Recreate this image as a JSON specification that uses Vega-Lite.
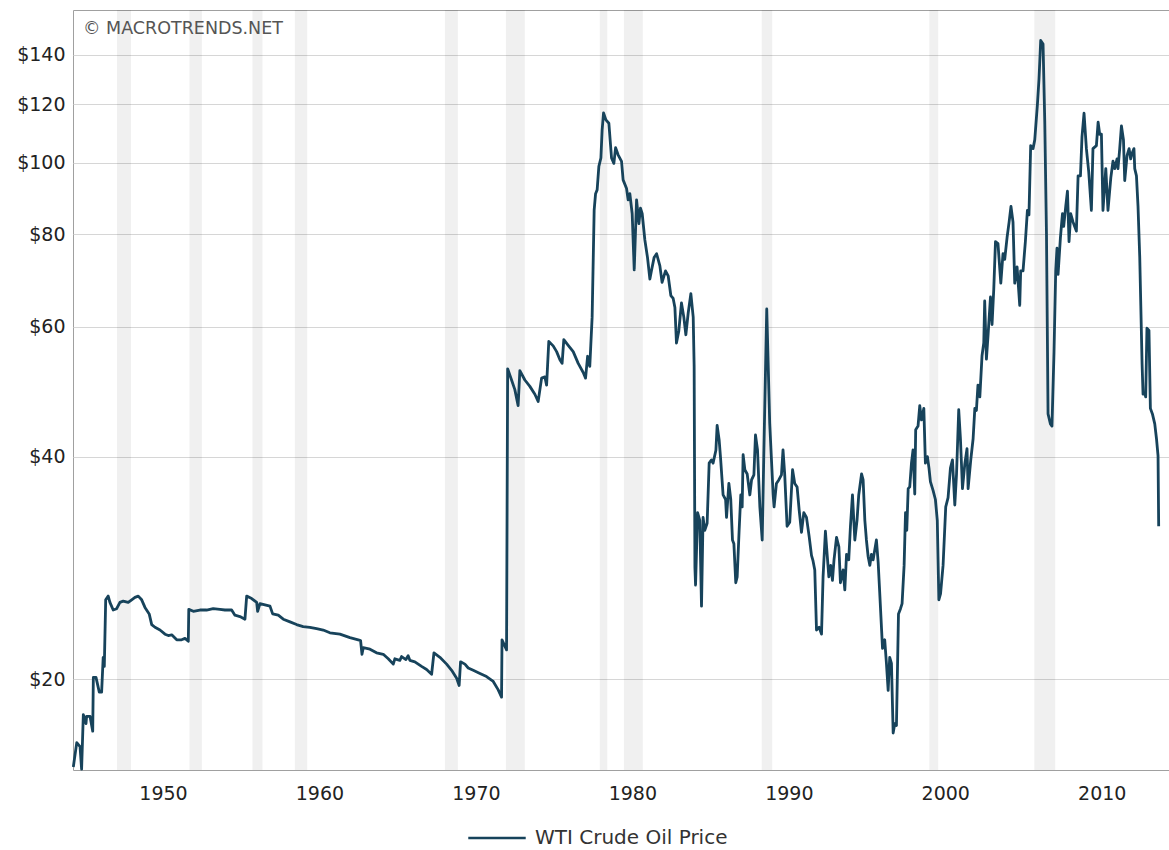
{
  "$schema": "https://vega.github.io/schema/vega-lite/v6.json",
  "width": 1096,
  "height": 760,
  "autosize": {"type": "none"},
  "padding": {"left": 73, "top": 10, "right": 0, "bottom": 80},
  "background": "white",
  "config": {
    "font": "DejaVu Sans",
    "view": {"stroke": "#a0a0a0", "strokeWidth": 1}
  },
  "title": {
    "text": "© MACROTRENDS.NET",
    "anchor": "start",
    "frame": "group",
    "orient": "top",
    "offset": -41,
    "dx": 10,
    "baseline": "alphabetic",
    "fontSize": 17.5,
    "fontWeight": "normal",
    "color": "#555555"
  },
  "datasets": {
    "rec": [
      {"year": 1947.06, "end": 1947.96},
      {"year": 1951.69, "end": 1952.49},
      {"year": 1955.72, "end": 1956.36},
      {"year": 1958.43, "end": 1959.22},
      {"year": 1968.02, "end": 1968.85},
      {"year": 1971.92, "end": 1973.13},
      {"year": 1977.92, "end": 1978.4},
      {"year": 1979.46, "end": 1980.67},
      {"year": 1988.27, "end": 1988.94},
      {"year": 1998.98, "end": 1999.55},
      {"year": 2005.69, "end": 2007.03}
    ],
    "oil": [
      {"year": 1944.27, "price": 15.2},
      {"year": 1944.49, "price": 16.4},
      {"year": 1944.7, "price": 16.2},
      {"year": 1944.8, "price": 15.1},
      {"year": 1944.91, "price": 17.9},
      {"year": 1945.08, "price": 17.4},
      {"year": 1945.12, "price": 17.8},
      {"year": 1945.34, "price": 17.8},
      {"year": 1945.51, "price": 17.0},
      {"year": 1945.55, "price": 20.1},
      {"year": 1945.72, "price": 20.1},
      {"year": 1945.93, "price": 19.2},
      {"year": 1946.08, "price": 19.2},
      {"year": 1946.18, "price": 21.4},
      {"year": 1946.25, "price": 20.8},
      {"year": 1946.34, "price": 25.6},
      {"year": 1946.5, "price": 25.9},
      {"year": 1946.61, "price": 25.4},
      {"year": 1946.82, "price": 24.8},
      {"year": 1947.04, "price": 24.9},
      {"year": 1947.25, "price": 25.4},
      {"year": 1947.46, "price": 25.5},
      {"year": 1947.78, "price": 25.4},
      {"year": 1948.0, "price": 25.6},
      {"year": 1948.21, "price": 25.8},
      {"year": 1948.42, "price": 25.9},
      {"year": 1948.64, "price": 25.6},
      {"year": 1948.85, "price": 25.0},
      {"year": 1949.12, "price": 24.5},
      {"year": 1949.28, "price": 23.7},
      {"year": 1949.49, "price": 23.5},
      {"year": 1949.81, "price": 23.3},
      {"year": 1950.13, "price": 23.0},
      {"year": 1950.34, "price": 22.9},
      {"year": 1950.56, "price": 22.95},
      {"year": 1950.88, "price": 22.6},
      {"year": 1951.19, "price": 22.6},
      {"year": 1951.41, "price": 22.7},
      {"year": 1951.62, "price": 22.5},
      {"year": 1951.65, "price": 24.85},
      {"year": 1951.94, "price": 24.7},
      {"year": 1952.36, "price": 24.8},
      {"year": 1952.79, "price": 24.8},
      {"year": 1953.21, "price": 24.9},
      {"year": 1953.64, "price": 24.85},
      {"year": 1953.96, "price": 24.8},
      {"year": 1954.39, "price": 24.8},
      {"year": 1954.6, "price": 24.4},
      {"year": 1954.92, "price": 24.3},
      {"year": 1955.24, "price": 24.1},
      {"year": 1955.35, "price": 25.9},
      {"year": 1955.67, "price": 25.7},
      {"year": 1955.99, "price": 25.4},
      {"year": 1956.05, "price": 24.7},
      {"year": 1956.2, "price": 25.3},
      {"year": 1956.52, "price": 25.2},
      {"year": 1956.84, "price": 25.1},
      {"year": 1957.01, "price": 24.5},
      {"year": 1957.37, "price": 24.4},
      {"year": 1957.69, "price": 24.1},
      {"year": 1958.12, "price": 23.9},
      {"year": 1958.54, "price": 23.7},
      {"year": 1958.96, "price": 23.55},
      {"year": 1959.39, "price": 23.5},
      {"year": 1959.82, "price": 23.4},
      {"year": 1960.24, "price": 23.3},
      {"year": 1960.67, "price": 23.1},
      {"year": 1961.31, "price": 23.0},
      {"year": 1961.95, "price": 22.75},
      {"year": 1962.48, "price": 22.6},
      {"year": 1962.63, "price": 22.55},
      {"year": 1962.72, "price": 21.6},
      {"year": 1962.8, "price": 22.05},
      {"year": 1963.23, "price": 21.95},
      {"year": 1963.65, "price": 21.7},
      {"year": 1964.08, "price": 21.6},
      {"year": 1964.4, "price": 21.3},
      {"year": 1964.72, "price": 20.95},
      {"year": 1964.82, "price": 21.3},
      {"year": 1965.14, "price": 21.2},
      {"year": 1965.25, "price": 21.45},
      {"year": 1965.53, "price": 21.25},
      {"year": 1965.67, "price": 21.5},
      {"year": 1965.78, "price": 21.2},
      {"year": 1966.1, "price": 21.1},
      {"year": 1966.53, "price": 20.8},
      {"year": 1966.85, "price": 20.6},
      {"year": 1967.17, "price": 20.3},
      {"year": 1967.32, "price": 21.7},
      {"year": 1967.7, "price": 21.4},
      {"year": 1968.13, "price": 20.95},
      {"year": 1968.45, "price": 20.55},
      {"year": 1968.77, "price": 20.05},
      {"year": 1968.93, "price": 19.6},
      {"year": 1969.02, "price": 21.1},
      {"year": 1969.3, "price": 20.95},
      {"year": 1969.51, "price": 20.7},
      {"year": 1969.83, "price": 20.55},
      {"year": 1970.26, "price": 20.35},
      {"year": 1970.68, "price": 20.15},
      {"year": 1971.11, "price": 19.85},
      {"year": 1971.42, "price": 19.35},
      {"year": 1971.64, "price": 18.9},
      {"year": 1971.67, "price": 22.6},
      {"year": 1971.96, "price": 21.9},
      {"year": 1972.03, "price": 52.6},
      {"year": 1972.28, "price": 50.8},
      {"year": 1972.49, "price": 49.3},
      {"year": 1972.7, "price": 46.9},
      {"year": 1972.81, "price": 52.3},
      {"year": 1973.13, "price": 50.8},
      {"year": 1973.45, "price": 49.8},
      {"year": 1973.77, "price": 48.6},
      {"year": 1973.98, "price": 47.5},
      {"year": 1974.2, "price": 51.1},
      {"year": 1974.41, "price": 51.3},
      {"year": 1974.52, "price": 50.0},
      {"year": 1974.66, "price": 57.3},
      {"year": 1974.94, "price": 56.5},
      {"year": 1975.16, "price": 55.5},
      {"year": 1975.37, "price": 54.1},
      {"year": 1975.51, "price": 53.5},
      {"year": 1975.62, "price": 57.6},
      {"year": 1975.9, "price": 56.6},
      {"year": 1976.22, "price": 55.5},
      {"year": 1976.54, "price": 53.5},
      {"year": 1976.86, "price": 52.0},
      {"year": 1977.01, "price": 51.1},
      {"year": 1977.14, "price": 54.7},
      {"year": 1977.28, "price": 53.0},
      {"year": 1977.43, "price": 61.8},
      {"year": 1977.56, "price": 86.3},
      {"year": 1977.65, "price": 90.8},
      {"year": 1977.75, "price": 91.9},
      {"year": 1977.86, "price": 98.9},
      {"year": 1977.99, "price": 101.5},
      {"year": 1978.07, "price": 110.8},
      {"year": 1978.16, "price": 116.8},
      {"year": 1978.31, "price": 114.3},
      {"year": 1978.5, "price": 113.1},
      {"year": 1978.67, "price": 101.5},
      {"year": 1978.82, "price": 99.8},
      {"year": 1978.93, "price": 104.8},
      {"year": 1979.09, "price": 102.5},
      {"year": 1979.31, "price": 100.4},
      {"year": 1979.41, "price": 94.8},
      {"year": 1979.63, "price": 92.3},
      {"year": 1979.73, "price": 89.1},
      {"year": 1979.84, "price": 90.8},
      {"year": 1979.99, "price": 85.3},
      {"year": 1980.12, "price": 71.6},
      {"year": 1980.27, "price": 89.1},
      {"year": 1980.42, "price": 82.7},
      {"year": 1980.52, "price": 86.8},
      {"year": 1980.63, "price": 85.3},
      {"year": 1980.8, "price": 78.6},
      {"year": 1980.97, "price": 74.4},
      {"year": 1981.12, "price": 69.6},
      {"year": 1981.23, "price": 71.6},
      {"year": 1981.39, "price": 74.4},
      {"year": 1981.55, "price": 75.3},
      {"year": 1981.76, "price": 72.5},
      {"year": 1981.9, "price": 68.9},
      {"year": 1982.12, "price": 71.4},
      {"year": 1982.29, "price": 70.3},
      {"year": 1982.46, "price": 66.1},
      {"year": 1982.61, "price": 65.5},
      {"year": 1982.72, "price": 63.7},
      {"year": 1982.82, "price": 57.0},
      {"year": 1982.97, "price": 59.2},
      {"year": 1983.14, "price": 64.6},
      {"year": 1983.29, "price": 61.8},
      {"year": 1983.42, "price": 58.5},
      {"year": 1983.57, "price": 62.6},
      {"year": 1983.74, "price": 66.5},
      {"year": 1983.89, "price": 61.8},
      {"year": 1983.95, "price": 53.0},
      {"year": 1984.0, "price": 28.3},
      {"year": 1984.04, "price": 26.8},
      {"year": 1984.17, "price": 33.6},
      {"year": 1984.31, "price": 32.8},
      {"year": 1984.42, "price": 25.1},
      {"year": 1984.52, "price": 33.1},
      {"year": 1984.63, "price": 31.8},
      {"year": 1984.78, "price": 32.5},
      {"year": 1984.91, "price": 39.2},
      {"year": 1985.06, "price": 39.6},
      {"year": 1985.16, "price": 39.2},
      {"year": 1985.34, "price": 40.8},
      {"year": 1985.42, "price": 44.1},
      {"year": 1985.55, "price": 42.1},
      {"year": 1985.64, "price": 39.8},
      {"year": 1985.8, "price": 35.5},
      {"year": 1985.96, "price": 35.0},
      {"year": 1986.02, "price": 33.1},
      {"year": 1986.17, "price": 36.8},
      {"year": 1986.29, "price": 35.0},
      {"year": 1986.4, "price": 30.85},
      {"year": 1986.49, "price": 30.5},
      {"year": 1986.61, "price": 27.0},
      {"year": 1986.7, "price": 27.5},
      {"year": 1986.82, "price": 31.6},
      {"year": 1986.93, "price": 35.5},
      {"year": 1987.02, "price": 34.2},
      {"year": 1987.08, "price": 40.25},
      {"year": 1987.19, "price": 38.4},
      {"year": 1987.34, "price": 37.9},
      {"year": 1987.51, "price": 35.5},
      {"year": 1987.62, "price": 37.2},
      {"year": 1987.77, "price": 37.8},
      {"year": 1987.87, "price": 42.8},
      {"year": 1988.0, "price": 40.85},
      {"year": 1988.15, "price": 34.2},
      {"year": 1988.3, "price": 30.85},
      {"year": 1988.4, "price": 40.0},
      {"year": 1988.59, "price": 63.4},
      {"year": 1988.78, "price": 44.4},
      {"year": 1989.0, "price": 35.5},
      {"year": 1989.06, "price": 34.2},
      {"year": 1989.21, "price": 36.8},
      {"year": 1989.36, "price": 37.2},
      {"year": 1989.53, "price": 37.8},
      {"year": 1989.63, "price": 40.85},
      {"year": 1989.74, "price": 37.8},
      {"year": 1989.89, "price": 32.2},
      {"year": 1990.06, "price": 32.6},
      {"year": 1990.24, "price": 38.4},
      {"year": 1990.38, "price": 36.8},
      {"year": 1990.53, "price": 36.4},
      {"year": 1990.66, "price": 33.9},
      {"year": 1990.81, "price": 31.6},
      {"year": 1990.96, "price": 33.6},
      {"year": 1991.13, "price": 33.1},
      {"year": 1991.3, "price": 31.2},
      {"year": 1991.45, "price": 29.4},
      {"year": 1991.55, "price": 28.9},
      {"year": 1991.66, "price": 28.1},
      {"year": 1991.77, "price": 23.3},
      {"year": 1991.94, "price": 23.5},
      {"year": 1992.09, "price": 23.0},
      {"year": 1992.19, "price": 27.5},
      {"year": 1992.34, "price": 31.7},
      {"year": 1992.45, "price": 29.5},
      {"year": 1992.56, "price": 27.5},
      {"year": 1992.68, "price": 28.5},
      {"year": 1992.79, "price": 27.2},
      {"year": 1992.89, "price": 29.0},
      {"year": 1993.05, "price": 31.1},
      {"year": 1993.2, "price": 30.2},
      {"year": 1993.3, "price": 27.0},
      {"year": 1993.47, "price": 28.1},
      {"year": 1993.58, "price": 26.4},
      {"year": 1993.69, "price": 29.5},
      {"year": 1993.83, "price": 29.0},
      {"year": 1993.94, "price": 32.2},
      {"year": 1994.07, "price": 35.5},
      {"year": 1994.22, "price": 30.85},
      {"year": 1994.36, "price": 32.8},
      {"year": 1994.47, "price": 35.5},
      {"year": 1994.65, "price": 37.9},
      {"year": 1994.75, "price": 37.2},
      {"year": 1994.86, "price": 32.8},
      {"year": 1994.96, "price": 30.85},
      {"year": 1995.07, "price": 29.3},
      {"year": 1995.18, "price": 28.5},
      {"year": 1995.28, "price": 29.5},
      {"year": 1995.39, "price": 29.0},
      {"year": 1995.6, "price": 30.85},
      {"year": 1995.71, "price": 28.8},
      {"year": 1995.81, "price": 26.2},
      {"year": 1995.99, "price": 22.0},
      {"year": 1996.13, "price": 22.6},
      {"year": 1996.24, "price": 21.0},
      {"year": 1996.35, "price": 19.3},
      {"year": 1996.45, "price": 21.4},
      {"year": 1996.56, "price": 21.0},
      {"year": 1996.67, "price": 16.9},
      {"year": 1996.77, "price": 17.4},
      {"year": 1996.88, "price": 17.3},
      {"year": 1997.01, "price": 24.5},
      {"year": 1997.14, "price": 24.9},
      {"year": 1997.24, "price": 25.3},
      {"year": 1997.37, "price": 28.5},
      {"year": 1997.46, "price": 33.6},
      {"year": 1997.54, "price": 31.8},
      {"year": 1997.63, "price": 36.2},
      {"year": 1997.73, "price": 36.4},
      {"year": 1997.84, "price": 39.2},
      {"year": 1997.94, "price": 40.85},
      {"year": 1998.05, "price": 35.6},
      {"year": 1998.11, "price": 43.5},
      {"year": 1998.26, "price": 44.0},
      {"year": 1998.37, "price": 46.9},
      {"year": 1998.48, "price": 44.85},
      {"year": 1998.63, "price": 46.5},
      {"year": 1998.73, "price": 39.2},
      {"year": 1998.86, "price": 40.0},
      {"year": 1998.96, "price": 38.6},
      {"year": 1999.05, "price": 37.0},
      {"year": 1999.22, "price": 36.0},
      {"year": 1999.37, "price": 35.0},
      {"year": 1999.49, "price": 32.8},
      {"year": 1999.59, "price": 25.6},
      {"year": 1999.7, "price": 26.1},
      {"year": 1999.86, "price": 28.5},
      {"year": 2000.03, "price": 34.2},
      {"year": 2000.18, "price": 35.2},
      {"year": 2000.33, "price": 38.6},
      {"year": 2000.46, "price": 39.6},
      {"year": 2000.61, "price": 34.4},
      {"year": 2000.72, "price": 37.9},
      {"year": 2000.86, "price": 46.3},
      {"year": 2000.97, "price": 42.3},
      {"year": 2001.1, "price": 36.2},
      {"year": 2001.25, "price": 39.1},
      {"year": 2001.39, "price": 41.0},
      {"year": 2001.46, "price": 36.2},
      {"year": 2001.63, "price": 39.6},
      {"year": 2001.78, "price": 42.3},
      {"year": 2001.89, "price": 46.5},
      {"year": 2001.99, "price": 46.2},
      {"year": 2002.09, "price": 50.0},
      {"year": 2002.21, "price": 48.2},
      {"year": 2002.35, "price": 54.8},
      {"year": 2002.46, "price": 57.0},
      {"year": 2002.52, "price": 65.0},
      {"year": 2002.63, "price": 54.2},
      {"year": 2002.74, "price": 58.6},
      {"year": 2002.89, "price": 65.8},
      {"year": 2002.99, "price": 60.4},
      {"year": 2003.1, "price": 67.4},
      {"year": 2003.21, "price": 78.2},
      {"year": 2003.37, "price": 77.7},
      {"year": 2003.55, "price": 68.7},
      {"year": 2003.69, "price": 75.3},
      {"year": 2003.8, "price": 74.0},
      {"year": 2003.95, "price": 79.2},
      {"year": 2004.08, "price": 83.1},
      {"year": 2004.2, "price": 87.3},
      {"year": 2004.33, "price": 83.1},
      {"year": 2004.44, "price": 68.7},
      {"year": 2004.59, "price": 72.3},
      {"year": 2004.76, "price": 64.1},
      {"year": 2004.82, "price": 71.4},
      {"year": 2004.97, "price": 71.4},
      {"year": 2005.12, "price": 78.2},
      {"year": 2005.25, "price": 86.2},
      {"year": 2005.35, "price": 85.0},
      {"year": 2005.46, "price": 105.5},
      {"year": 2005.61, "price": 104.5},
      {"year": 2005.72, "price": 107.4},
      {"year": 2005.89, "price": 120.0},
      {"year": 2005.99, "price": 129.7},
      {"year": 2006.1, "price": 146.4},
      {"year": 2006.25, "price": 144.8},
      {"year": 2006.36, "price": 113.5},
      {"year": 2006.47, "price": 79.8},
      {"year": 2006.57, "price": 45.7},
      {"year": 2006.72, "price": 44.3},
      {"year": 2006.82, "price": 44.0},
      {"year": 2006.95, "price": 55.4},
      {"year": 2007.06, "price": 71.4},
      {"year": 2007.14, "price": 76.6},
      {"year": 2007.21, "price": 70.6},
      {"year": 2007.36, "price": 79.2},
      {"year": 2007.49, "price": 85.3},
      {"year": 2007.57, "price": 82.0},
      {"year": 2007.7, "price": 87.3},
      {"year": 2007.81, "price": 91.5},
      {"year": 2007.91, "price": 78.2},
      {"year": 2008.02, "price": 85.3},
      {"year": 2008.17, "price": 83.1},
      {"year": 2008.27, "price": 82.0},
      {"year": 2008.38, "price": 80.8},
      {"year": 2008.49, "price": 96.0},
      {"year": 2008.64, "price": 96.0},
      {"year": 2008.74, "price": 108.5},
      {"year": 2008.87, "price": 116.7},
      {"year": 2009.02, "price": 104.5},
      {"year": 2009.17, "price": 97.2},
      {"year": 2009.34, "price": 86.2},
      {"year": 2009.44, "price": 104.5},
      {"year": 2009.66, "price": 105.5},
      {"year": 2009.77, "price": 113.5},
      {"year": 2009.87, "price": 109.3},
      {"year": 2009.98, "price": 109.3},
      {"year": 2010.08, "price": 86.2},
      {"year": 2010.26, "price": 98.2},
      {"year": 2010.4, "price": 86.2},
      {"year": 2010.58, "price": 95.4},
      {"year": 2010.72, "price": 100.5},
      {"year": 2010.83, "price": 98.2},
      {"year": 2010.98, "price": 101.2},
      {"year": 2011.04, "price": 98.2},
      {"year": 2011.15, "price": 104.5},
      {"year": 2011.26, "price": 112.2},
      {"year": 2011.39, "price": 107.4},
      {"year": 2011.47, "price": 94.6},
      {"year": 2011.62, "price": 102.3},
      {"year": 2011.75, "price": 104.5},
      {"year": 2011.85, "price": 101.2},
      {"year": 2011.94, "price": 103.0},
      {"year": 2012.06, "price": 104.5},
      {"year": 2012.11, "price": 98.2},
      {"year": 2012.22, "price": 96.0},
      {"year": 2012.32, "price": 87.3},
      {"year": 2012.43, "price": 74.5},
      {"year": 2012.58, "price": 53.4},
      {"year": 2012.64, "price": 48.6},
      {"year": 2012.75, "price": 48.8},
      {"year": 2012.81, "price": 48.2},
      {"year": 2012.89, "price": 59.7},
      {"year": 2013.02, "price": 59.3},
      {"year": 2013.11, "price": 46.5},
      {"year": 2013.24, "price": 45.7},
      {"year": 2013.39, "price": 44.3},
      {"year": 2013.5, "price": 42.3},
      {"year": 2013.6, "price": 40.1},
      {"year": 2013.64, "price": 32.2}
    ]
  },
  "encoding": {
    "x": {
      "field": "year",
      "type": "quantitative",
      "scale": {"domain": [1944.25, 2014.3], "nice": false, "zero": false},
      "axis": {
        "values": [1950, 1960, 1970, 1980, 1990, 2000, 2010],
        "format": "d",
        "ticks": false,
        "domain": false,
        "grid": false,
        "labelFontSize": 19,
        "labelColor": "#222222",
        "labelPadding": 14,
        "title": null
      }
    }
  },
  "layer": [
    {
      "data": {"name": "rec"},
      "mark": {"type": "rect", "color": "#000000", "opacity": 0.06},
      "encoding": {"x2": {"field": "end"}}
    },
    {
      "data": {"name": "oil"},
      "mark": {"type": "line", "strokeWidth": 2.8, "strokeJoin": "round"},
      "encoding": {
        "y": {
          "field": "price",
          "type": "quantitative",
          "scale": {"type": "log", "domain": [15.06, 161], "nice": false, "zero": false},
          "axis": {
            "values": [20, 40, 60, 80, 100, 120, 140],
            "labelExpr": "'$' + datum.value",
            "ticks": false,
            "domain": false,
            "grid": true,
            "gridColor": "#d6d6d6",
            "gridWidth": 1,
            "labelFontSize": 19,
            "labelColor": "#222222",
            "labelPadding": 8,
            "title": null
          }
        },
        "color": {
          "datum": "WTI Crude Oil Price",
          "type": "nominal",
          "scale": {"range": ["#17435b"]},
          "legend": {
            "orient": "none",
            "legendX": 394,
            "legendY": 798,
            "title": null,
            "symbolType": "stroke",
            "symbolSize": 3300,
            "symbolStrokeWidth": 2.5,
            "labelFontSize": 20,
            "labelColor": "#333333",
            "labelOffset": 8,
            "labelLimit": 400,
            "padding": 0
          }
        }
      }
    }
  ]
}
